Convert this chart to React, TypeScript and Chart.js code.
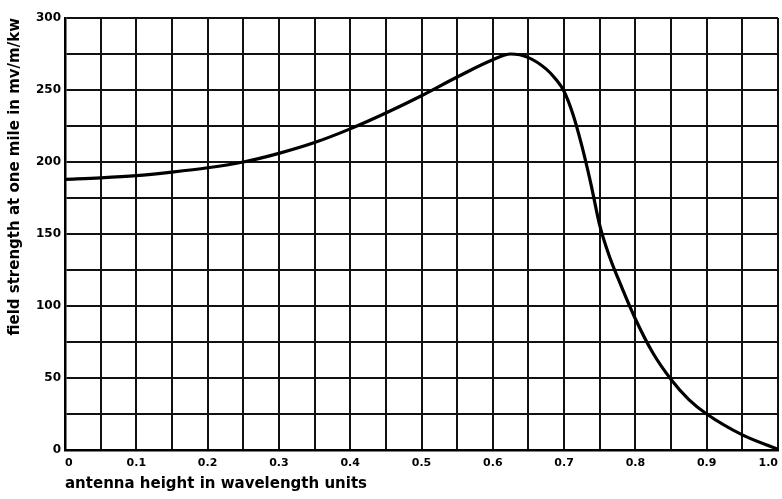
import React, { useEffect, useRef } from "react";
import { Chart, registerables } from "chart.js";

Chart.register(...registerables);

const heights = [0, 0.05, 0.1, 0.15, 0.2, 0.25, 0.3, 0.35, 0.4, 0.45, 0.5, 0.55, 0.6, 0.625, 0.65, 0.675, 0.6875, 0.7, 0.7125, 0.725, 0.7375, 0.75, 0.7625, 0.775, 0.8, 0.825, 0.85, 0.875, 0.9, 0.95, 1.0];
const fieldStrength = [188, 189, 190.5, 193, 196, 200, 206, 213.5, 223, 234, 246, 259, 271, 275, 272.5, 264.5, 258, 249, 233, 211, 185, 156, 136, 120, 91, 67, 49, 35, 25, 10.5, 0.5];

const xTitle = "antenna height in wavelength units";
const yTitle = "field strength at one mile in mv/m/kw";

export default function App() {
  const ref = useRef<HTMLCanvasElement | null>(null);
  useEffect(() => {
    if (!ref.current) return;
    const font = "'DejaVu Sans', sans-serif";
    const chart = new Chart(ref.current, {
      type: "line",
      data: {
        datasets: [
          {
            data: heights.map((h, i) => ({ x: h, y: fieldStrength[i] })),
            borderColor: "#000",
            borderWidth: 3.2,
            pointRadius: 0,
            fill: false,
            cubicInterpolationMode: "monotone",
          },
        ],
      },
      options: {
        responsive: false,
        animation: false,
        layout: { padding: { top: 18, right: 4, left: 0, bottom: 0 } },
        plugins: { legend: { display: false }, tooltip: { enabled: false } },
        scales: {
          x: {
            type: "linear",
            min: 0,
            max: 1,
            ticks: {
              stepSize: 0.05,
              padding: 7,
              align: "inner",
              color: "#000",
              font: { family: font, size: 11, weight: "bold" },
              maxRotation: 0,
              autoSkip: false,
              callback: (v: any) => {
                const n = Math.round(Number(v) * 100);
                if (n % 10 !== 0) return "";
                return n === 0 ? "0" : (n / 100).toFixed(1);
              },
            },
            grid: { color: "#111", lineWidth: 2, drawTicks: false },
            border: { color: "#000", width: 2.5 },
            title: {
              display: true,
              text: xTitle,
              align: "start",
              color: "#000",
              font: { family: font, size: 15, weight: "bold" },
              padding: { top: 0, bottom: 6 },
            },
            afterFit: (s: any) => {
              s.height = 49;
              s.paddingLeft = 0;
              s.paddingRight = 0;
            },
          },
          y: {
            min: 0,
            max: 300,
            ticks: {
              stepSize: 25,
              padding: 4,
              color: "#000",
              font: { family: font, size: 12, weight: "bold" },
              autoSkip: false,
              callback: (v: any) => (Number(v) % 50 === 0 ? String(v) : ""),
            },
            grid: { color: "#111", lineWidth: 2, drawTicks: false },
            border: { color: "#000", width: 2.5 },
            title: {
              display: true,
              text: yTitle,
              align: "end",
              color: "#000",
              font: { family: font, size: 15, weight: "bold" },
              padding: { top: 6, bottom: 0 },
            },
            afterFit: (s: any) => {
              s.width = 65;
              s.paddingTop = 0;
              s.paddingBottom = 0;
            },
          },
        },
      },
    });
    return () => chart.destroy();
  }, []);
  return (
    <div style={{ position: "fixed", left: 0, top: 0, width: 782, height: 499, background: "#fff" }}>
      <canvas ref={ref} width={782} height={499} />
    </div>
  );
}
